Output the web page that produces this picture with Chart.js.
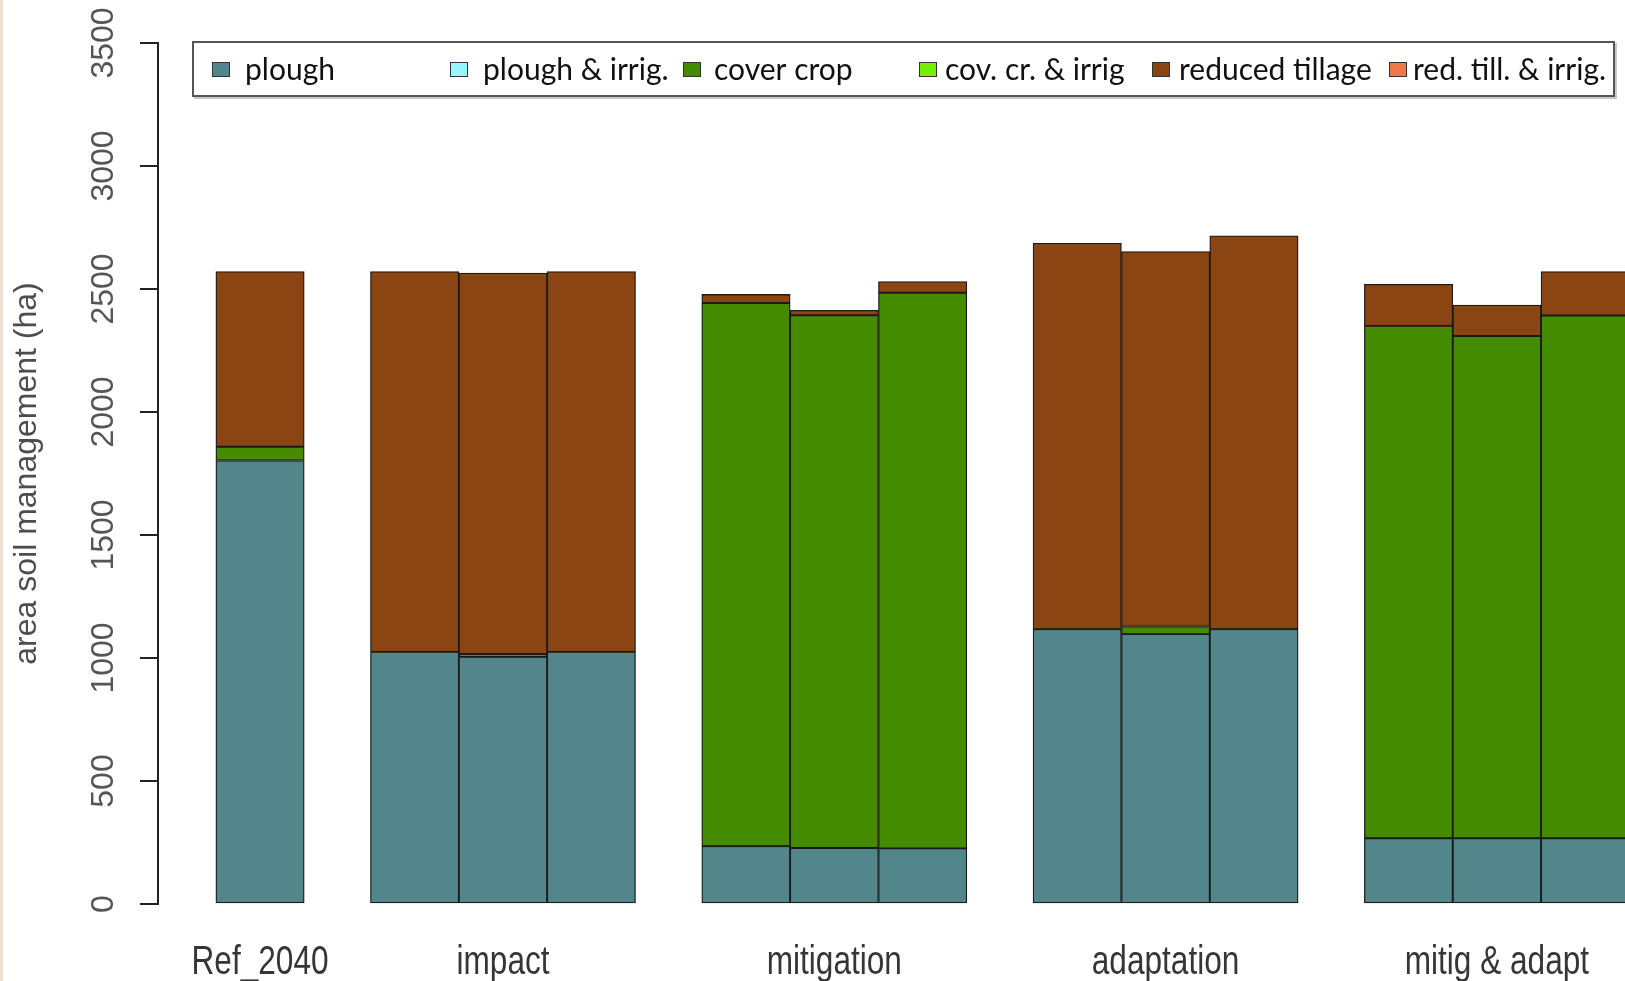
<!DOCTYPE html>
<html>
<head>
<meta charset="utf-8">
<title>Area per soil management</title>
<script src="https://cdn.jsdelivr.net/npm/chart.js@4.4.1/dist/chart.umd.min.js"></script>
<style>
  html, body { margin: 0; padding: 0; background: #fff; }
  canvas { display: block; }
</style>
</head>
<body>
<canvas id="soilChart" width="1625" height="981"></canvas>
<script>
// scenario groups and how many runs (bars) each one has
const groups = ['Ref_2040', 'impact', 'mitigation', 'adaptation', 'mitig & adapt'];
const barsPerGroup = [1, 3, 3, 3, 3];

// area per management type (ha), one value per bar, left to right
const plough           = [1803, 1025, 1005, 1025, 235, 228, 226, 1117, 1097, 1117, 267, 267, 267];
const ploughIrrig      = [0, 0, 0, 0, 0, 0, 0, 0, 0, 0, 0, 0, 0];
const coverCrop        = [56, 0, 11, 0, 2208, 2165, 2259, 0, 31, 0, 2083, 2042, 2125];
const coverCropIrrig   = [0, 0, 0, 0, 0, 0, 0, 0, 0, 0, 0, 0, 0];
const reducedTillage   = [712, 1546, 1549, 1546, 35, 20, 45, 1569, 1524, 1599, 169, 126, 179];
const reducedTillIrrig = [0, 0, 0, 0, 0, 0, 0, 0, 0, 0, 0, 0, 0];

const seriesLabels = ['plough', 'plough & irrig.', 'cover crop', 'cov. cr. & irrig', 'reduced tillage', 'red. till. & irrig.'];
const yTicks = [0, 500, 1000, 1500, 2000, 2500, 3000, 3500];

// bars of a group touch each other, groups are separated by a gap
const GROUP_GAP = 0.75;
const barPos = [];
const groupCenter = [];
let pos = 0;
barsPerGroup.forEach(n => {
    groupCenter.push(pos + (n - 1) / 2);
    for (let i = 0; i < n; i++) barPos.push(pos + i);
    pos += n + GROUP_GAP;
});

const colors = ['#53868B', '#98F5FF', '#458B00', '#76EE00', '#8B4513', '#EE7942'];
const series = [plough, ploughIrrig, coverCrop, coverCropIrrig, reducedTillage, reducedTillIrrig];

const datasets = series.map((values, i) => ({
    label: seriesLabels[i],
    data: values.map((v, j) => ({ x: barPos[j], y: v })),
    backgroundColor: colors[i],
    borderColor: '#1a1a1a',
    borderWidth: 1.3,
    borderSkipped: false,
    barPercentage: 1,
    categoryPercentage: 1
}));

// white page with the thin beige edge on the left
const pageBackground = {
    id: 'pageBackground',
    beforeDraw(chart) {
        const ctx = chart.ctx;
        ctx.save();
        ctx.fillStyle = '#ffffff';
        ctx.fillRect(0, 0, chart.width, chart.height);
        ctx.fillStyle = '#ebe2d2';
        ctx.fillRect(0, 0, 3, chart.height);
        ctx.restore();
    }
};

// boxed legend in one row
const legendSwatchX = [212, 450, 683, 919, 1152, 1389];
const legendTextX = [245, 483, 714, 945, 1179, 1413];
const boxLegend = {
    id: 'boxLegend',
    afterDraw(chart) {
        const ctx = chart.ctx;
        ctx.save();
        ctx.strokeStyle = '#c8c8c8';
        ctx.lineWidth = 2;
        ctx.strokeRect(195, 44, 1421, 54);
        ctx.fillStyle = '#ffffff';
        ctx.fillRect(193, 42, 1421, 54);
        ctx.strokeStyle = '#555555';
        ctx.strokeRect(193, 42, 1421, 54);

        ctx.font = '30px Lato, "Open Sans", sans-serif';
        ctx.textBaseline = 'middle';
        chart.data.datasets.forEach((ds, i) => {
            const x = legendSwatchX[i];
            ctx.fillStyle = ds.backgroundColor;
            ctx.fillRect(x, 62, 18, 15);
            ctx.strokeStyle = '#333333';
            ctx.lineWidth = 1;
            ctx.strokeRect(x + 0.5, 62.5, 17, 14);
            ctx.fillStyle = '#111111';
            ctx.fillText(ds.label, legendTextX[i], 70);
        });
        ctx.restore();
    }
};

// narrow, tall group names under each group of bars
const groupLabels = {
    id: 'groupLabels',
    afterDraw(chart) {
        const ctx = chart.ctx;
        const xs = chart.scales.x;
        ctx.save();
        ctx.fillStyle = '#363636';
        ctx.font = '40px "Liberation Sans", Arial, sans-serif';
        ctx.textAlign = 'center';
        ctx.textBaseline = 'alphabetic';
        groups.forEach((name, i) => {
            ctx.save();
            ctx.translate(xs.getPixelForValue(groupCenter[i]), 974);
            ctx.scale(0.79, 1);
            ctx.fillText(name, 0, 0);
            ctx.restore();
        });
        ctx.restore();
    }
};

new Chart(document.getElementById('soilChart'), {
    type: 'bar',
    data: { datasets },
    options: {
        responsive: false,
        animation: false,
        layout: { padding: { top: 43, left: 0, right: 0, bottom: 0 } },
        plugins: {
            legend: { display: false },
            tooltip: { enabled: false }
        },
        scales: {
            x: {
                type: 'linear',
                stacked: true,
                offset: false,
                min: -1.155,
                max: 15.45,
                grid: { display: false, drawTicks: false, offset: false },
                border: { display: false },
                afterBuildTicks: scale => {
                    scale.ticks = groupCenter.map(v => ({ value: v }));
                },
                afterFit: scale => {
                    scale.height = 77;
                    scale.paddingLeft = 0;
                    scale.paddingRight = 0;
                },
                ticks: { display: false, autoSkip: false }
            },
            y: {
                stacked: true,
                min: 0,
                max: 3500,
                afterBuildTicks: scale => {
                    scale.ticks = yTicks.map(v => ({ value: v }));
                },
                afterFit: scale => { scale.width = 158; },
                grid: {
                    drawOnChartArea: false,
                    drawTicks: true,
                    tickLength: 18,
                    color: '#222222',
                    lineWidth: 2
                },
                border: { display: true, color: '#222222', width: 2 },
                ticks: {
                    autoSkip: false,
                    minRotation: 90,
                    maxRotation: 90,
                    crossAlign: 'center',
                    padding: 0,
                    color: '#555555',
                    font: { family: '"Liberation Sans", Arial, sans-serif', size: 32 },
                    callback: value => String(value)
                },
                title: {
                    display: true,
                    text: 'area soil management (ha)',
                    color: '#4d4d4d',
                    padding: { top: 8, bottom: 0 },
                    font: { family: '"Liberation Sans", Arial, sans-serif', size: 32 }
                }
            }
        }
    },
    plugins: [pageBackground, boxLegend, groupLabels]
});
</script>
</body>
</html>
